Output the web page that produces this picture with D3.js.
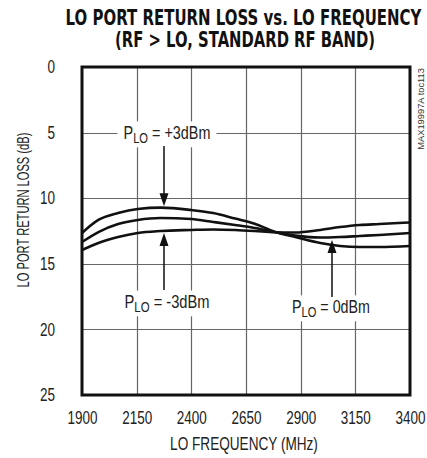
<!DOCTYPE html>
<html><head><meta charset="utf-8">
<script src="https://cdn.jsdelivr.net/npm/d3@7"></script>
<style>
body{margin:0;background:#fff;}
svg{display:block;font-family:"Liberation Sans",Arial,sans-serif;}
</style></head>
<body>
<script>
const freqs = [1900,1975,2065,2155,2260,2400,2500,2600,2690,2780,2875,2990,3080,3170,3260,3400];
const plus3 = [12.65,11.66,11.13,10.82,10.72,10.90,11.13,11.55,11.95,12.55,12.95,13.41,13.64,13.72,13.72,13.64];
const zero  = [13.34,12.58,11.97,11.66,11.51,11.59,11.81,12.04,12.27,12.58,12.85,13.0,12.96,12.88,12.80,12.65];
const minus3= [13.95,13.41,12.96,12.65,12.5,12.42,12.38,12.42,12.5,12.6,12.62,12.42,12.2,12.04,11.97,11.85];
const xTicks = [1900,2150,2400,2650,2900,3150,3400];
const yTicks = [0,5,10,15,20,25];

const W=427,H=458;
const m={l:82,r:410,t:67,b:395};
const SX=0.75;
const svg=d3.select("body").append("svg").attr("width",W).attr("height",H);
const x=d3.scaleLinear().domain([1900,3400]).range([m.l,m.r]);
const y=d3.scaleLinear().domain([0,25]).range([m.t,m.b]);

function fitText(parent,cx,cy,str,opts){
  const g=parent.append("g").attr("transform",`translate(${cx},${cy})${opts.rot?` rotate(${opts.rot})`:""}`);
  const t=g.append("text").attr("text-anchor",opts.anchor||"middle").attr("font-size",opts.size||18)
    .attr("fill",opts.fill||"#222").attr("font-weight",opts.weight||null);
  if(opts.family) t.attr("font-family",opts.family);
  t.text(str);
  const w=t.node().getComputedTextLength();
  const s=opts.width? opts.width/w : SX;
  t.attr("transform",`scale(${s},1)`);
  return t;
}

// title
fitText(svg,243.5,25,"LO PORT RETURN LOSS vs. LO FREQUENCY",{size:20.5,weight:"bold",width:356,fill:"#111",family:"'DejaVu Sans',sans-serif"});
fitText(svg,245,47,"(RF > LO, STANDARD RF BAND)",{size:20.5,weight:"bold",width:260,fill:"#111",family:"'DejaVu Sans',sans-serif"});

// grid
const g=svg.append("g");
g.selectAll(".vx").data(xTicks.slice(1,-1)).join("line")
  .attr("x1",d=>Math.round(x(d))+0.5).attr("x2",d=>Math.round(x(d))+0.5)
  .attr("y1",m.t).attr("y2",m.b).attr("stroke","#666").attr("stroke-width",1.2);
g.selectAll(".hy").data(yTicks.slice(1,-1)).join("line")
  .attr("y1",d=>Math.round(y(d))+0.5).attr("y2",d=>Math.round(y(d))+0.5)
  .attr("x1",m.l).attr("x2",m.r).attr("stroke","#666").attr("stroke-width",1.2);

// axes (labels only)
const xa=svg.append("g").attr("transform",`translate(0,${m.b})`)
  .call(d3.axisBottom(x).tickValues(xTicks).tickSize(0).tickPadding(16).tickFormat(d3.format("d")));
xa.select(".domain").remove();
xa.selectAll("text").attr("font-size",18).attr("fill","#222").attr("font-family",null)
  .attr("transform",`scale(${SX},1)`);
const ya=svg.append("g").attr("transform",`translate(${m.l},0)`)
  .call(d3.axisLeft(y).tickValues(yTicks).tickSize(0).tickPadding(27));
ya.select(".domain").remove();
ya.selectAll("text").attr("font-size",18).attr("fill","#222").attr("font-family",null)
  .attr("x",-27/SX).attr("transform",`scale(${SX},1)`);

fitText(svg,244,450,"LO FREQUENCY (MHz)",{size:17.5,width:148});
fitText(svg,29,210,"LO PORT RETURN LOSS (dB)",{size:16,width:155,rot:-90});
fitText(svg,424,68,"MAX19997A toc113",{size:9,width:82,rot:-90,anchor:"end",fill:"#333"});

// curves
const line=d3.line().x((d,i)=>x(freqs[i])).y(d=>y(d)).curve(d3.curveMonotoneX);
[plus3,zero,minus3].forEach(s=>{
  svg.append("path").attr("d",line(s)).attr("fill","none").attr("stroke","#111").attr("stroke-width",2.6);
});

// labels with white background
function label(cx,cy,val,width){
  const gg=svg.append("g").attr("transform",`translate(${cx},${cy})`);
  const t=gg.append("text").attr("text-anchor","middle").attr("font-size",18).attr("fill","#222");
  t.append("tspan").text("P");
  t.append("tspan").attr("font-size",14).attr("dy",4).text("LO");
  t.append("tspan").attr("dy",-4).text(" = "+val);
  const w=t.node().getComputedTextLength();
  const s=width/w;
  t.attr("transform",`scale(${s},1)`);
  const bb=t.node().getBBox();
  gg.insert("rect",()=>t.node()).attr("x",-width/2-6).attr("y",bb.y-1).attr("width",width+12).attr("height",bb.height+2).attr("fill","#fff");
}
function arrow(ax,y0,y1){
  const dir=y1>y0?1:-1;
  svg.append("line").attr("x1",ax).attr("x2",ax).attr("y1",y0).attr("y2",y1-dir*10).attr("stroke","#111").attr("stroke-width",1.5);
  svg.append("path").attr("d",`M${ax},${y1} L${ax-4.5},${y1-dir*13} L${ax+4.5},${y1-dir*13} Z`).attr("fill","#111");
}
label(167,139,"+3dBm",87);
arrow(164,146,y(10.72)-1.5);
label(167,308,"-3dBm",85);
arrow(164,290,y(12.5)+2);
label(331,313,"0dBm",78);
arrow(332,297,240);

// frame
svg.append("rect").attr("x",m.l).attr("y",m.t).attr("width",m.r-m.l).attr("height",m.b-m.t)
  .attr("fill","none").attr("stroke","#111").attr("stroke-width",3);
</script>
</body></html>
